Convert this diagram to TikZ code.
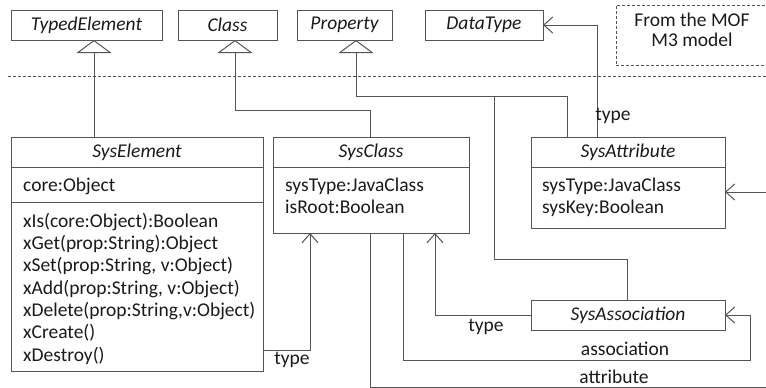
\documentclass[tikz,border=0pt]{standalone}
\usepackage{fontspec}
\setmainfont{Carlito}
\usetikzlibrary{arrows.meta,calc}

\definecolor{umlline}{HTML}{555555}
\definecolor{umltext}{HTML}{1A1A1A}
\newcommand{\umlfont}{\fontsize{19.5}{22.3}\selectfont}

\tikzset{
  head/.style={draw=umlline, line width=1pt, font=\umlfont\itshape, minimum height=30pt, inner sep=0pt, outer sep=0pt},
  part/.style={draw=umlline, line width=1pt, anchor=north, inner sep=0pt, outer sep=0pt},
  members/.style={anchor=north west, align=left, inner sep=0pt},
  note/.style={draw=umlline, line width=0.9pt, dash pattern=on 3pt off 2pt, align=center, inner sep=0pt, text depth=10pt, font=\fontsize{19.5}{20}\selectfont},
  sep/.style={draw=umlline, line width=0.9pt, dash pattern=on 3pt off 2pt},
  line/.style={draw=umlline, line width=1pt},
  gen/.style={line, -{Triangle[open, length=13pt, width=35pt, fill=white]}},
  nav/.style={line, -{Straight Barb[length=9pt, width=16pt]}},
  role/.style={inner sep=0pt},
}

\begin{document}
\begin{tikzpicture}[x=1pt, y=-1pt, font=\umlfont, text=umltext]
  \useasboundingbox (0,0) rectangle (766,388);
  \clip (0,0) rectangle (766,388);

  % MOF M3 classes
  \node[head, minimum width=151] (typed) at (86.5,25) {TypedElement};
  \node[head, minimum width=99] (class) at (227.5,25) {Class};
  \node[head, minimum width=95] (prop) at (344.5,25) {Property};
  \node[head, minimum width=118] (dtype) at (484,25) {DataType};
  \node[note, minimum width=152, minimum height=60] (mof) at (692,35) {From the MOF\\M3 model};

  % Separator between the levels
  \coordinate (sepL) at (8,76);
  \coordinate (sepR) at (770,76);
  \draw[sep] (sepL) -- (sepR);

  % SysElement
  \node[head, minimum width=252] (elem) at (137,152) {SysElement};
  \node[part, minimum width=252, minimum height=35] (elemA) at (elem.south) {};
  \node[part, minimum width=252, minimum height=169] (elemM) at (elemA.south) {};
  \node[members] (elemAt) at ($(elemA.north west)+(12,8.5)$) {\strut core:Object};
  \node[members] (elemMt) at ($(elemM.north west)+(12,9.5)$) {\strut xIs(core:Object):Boolean\\
    xGet(prop:String):Object\\
    xSet(prop:String, v:Object)\\
    xAdd(prop:String, v:Object)\\
    xDelete(prop:String,v:Object)\\
    xCreate()\\
    xDestroy()};

  % SysClass
  \node[head, minimum width=196] (cls) at (371,152) {SysClass};
  \node[part, minimum width=196, minimum height=66] (clsA) at (cls.south) {};
  \node[members] (clsAt) at ($(clsA.north west)+(12,8.5)$) {\strut sysType:JavaClass\\isRoot:Boolean};

  % SysAttribute
  \node[head, minimum width=194] (attr) at (628,152) {SysAttribute};
  \node[part, minimum width=194, minimum height=61] (attrA) at (attr.south) {};
  \node[members] (attrAt) at ($(attrA.north west)+(11,8.5)$) {\strut sysType:JavaClass\\sysKey:Boolean};

  % SysAssociation
  \node[head, minimum width=194] (assoc) at (628,315) {SysAssociation};

  % Generalizations
  \draw[gen] ($(elem.north)+(-43,0)$) -- ($(typed.south)+(7.5,0)$);
  \draw[gen] ($(cls.north)+(-1,0)$) -- ++(0,-27) -| ($(class.south)+(7.5,0)$);
  \draw[gen] ($(attr.north)+(-61,0)$) -- ++(0,-41) -| ($(prop.south)+(11.5,0)$);
  \coordinate (propj) at ($(prop.south)+(149.5,56)$);
  \draw[line] ($(assoc.north)+(-1,0)$) -- ++(0,-41) -| (propj);

  % Associations
  \draw[nav] ($(attr.north)+(-31,0)$) |- (dtype.east);
  \draw[nav] ($(elemM.east)+(0,63.5)$) -| ($(clsA.south)+(-61,0)$);
  \draw[nav] (assoc.west) -| ($(clsA.south)+(64,0)$);
  \draw[nav] ($(clsA.south)+(32,0)$) |- ($(assoc.east)+(25,45)$) |- (assoc.east);
  \draw[nav] ($(clsA.south)+(-1,0)$) |- ($(attrA.east)+(50,189.5)$) |- ($(attrA.east)+(0,-5.5)$);

  % Role names
  \node[role] (typeD) at (613,116) {type};
  \node[role] (typeE) at (292,360) {type};
  \node[role] (typeA) at (486,327) {type};
  \node[role] (assocR) at (625,349) {association};
  \node[role] (attrR) at (614,377) {attribute};
\end{tikzpicture}
\end{document}
